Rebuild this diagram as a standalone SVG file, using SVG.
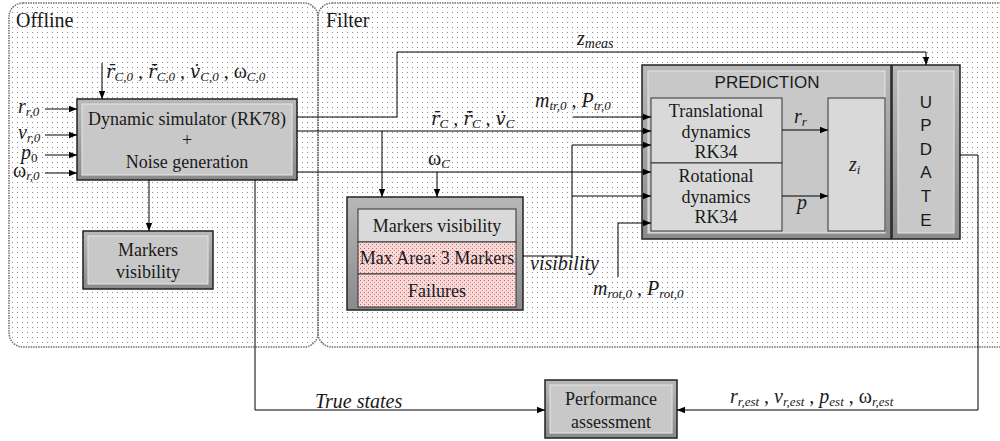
<svg xmlns="http://www.w3.org/2000/svg" width="1000" height="441" viewBox="0 0 1000 441">
<defs>
<pattern id="dots" width="5" height="5" patternUnits="userSpaceOnUse"><rect x="2" y="2" width="1" height="1" fill="#8c8c8c"/></pattern>
<pattern id="pink" width="4" height="4" patternUnits="userSpaceOnUse"><rect width="4" height="4" fill="#f5dada"/><rect x="0" y="0" width="1" height="1" fill="#e05a5a"/><rect x="2" y="2" width="1" height="1" fill="#e88080"/></pattern>
<linearGradient id="bev" x1="0" y1="0" x2="0" y2="1"><stop offset="0" stop-color="#b8b8b8"/><stop offset="1" stop-color="#8a8a8a"/></linearGradient>
<marker id="arr" viewBox="0 0 10 10" refX="10" refY="5" markerWidth="8" markerHeight="8" markerUnits="userSpaceOnUse" orient="auto" overflow="visible"><path d="M0,1 L10,5 L0,9 z" fill="#000" stroke="none"/></marker>
</defs>
<style>
.panel{fill:url(#dots);stroke:#6e6e6e;stroke-width:1.5;stroke-dasharray:1.5 1}
.la{fill:none;stroke:#000;stroke-width:1}
.outer{fill:url(#bev);stroke:#222;stroke-width:1.5}
.face{fill:#c8c8c8;stroke:#e6e6e6;stroke-width:1}
.inner{fill:#d9d9d9;stroke:#333;stroke-width:1}
.t{font-family:"Liberation Serif",serif;font-size:18px;fill:#1a1a1a;text-anchor:middle}
.title{font-family:"Liberation Serif",serif;font-size:20px;fill:#1a1a1a}
.s{font-family:"Liberation Sans",sans-serif;font-size:17px;fill:#1a1a1a;text-anchor:middle}
.m{font-family:"Liberation Serif",serif;font-style:italic;font-size:20px;fill:#1a1a1a}
.b{font-family:"DejaVu Serif",serif;font-size:18px}
.u{font-style:normal}
</style>
<rect width="1000" height="441" fill="#fff"/>
<g id="panels">
<rect id="offline-panel" class="panel" x="9" y="3" width="309" height="344" rx="14"/>
<rect id="filter-panel" class="panel" x="318" y="3" width="700" height="344" rx="14"/>
<text class="title" x="16" y="27">Offline</text>
<text class="title" x="326" y="27">Filter</text>
</g>
<g id="dynamic-simulator">
<rect class="outer" x="77" y="99" width="220" height="81"/>
<rect class="face" x="82" y="104" width="210" height="71"/>
<text class="t" x="187" y="125">Dynamic simulator (RK78)</text>
<text class="t" x="187" y="146">+</text>
<text class="t" x="187" y="168">Noise generation</text>
</g>
<g id="markers-visibility-offline">
<rect class="outer" x="83" y="231" width="130" height="58"/>
<rect class="face" x="88" y="236" width="120" height="48"/>
<text class="t" x="148" y="256">Markers</text>
<text class="t" x="148" y="278">visibility</text>
</g>
<g id="markers-visibility-filter">
<rect class="outer" x="347" y="197" width="176" height="113"/>
<rect x="358" y="209" width="158" height="33" fill="#d9d9d9" stroke="#333"/>
<rect x="358" y="242" width="158" height="32" fill="url(#pink)" stroke="#333"/>
<rect x="358" y="274" width="158" height="33" fill="url(#pink)" stroke="#333"/>
<text class="t" x="437" y="232">Markers visibility</text>
<text class="t" x="437" y="264" font-size="15">Max Area: 3 Markers</text>
<text class="t" x="437" y="297">Failures</text>
</g>
<g id="prediction">
<rect class="outer" x="642" y="65" width="249" height="174"/>
<rect class="face" x="648" y="71" width="237" height="162"/>
<text class="s" x="767" y="88">PREDICTION</text>
<g id="translational">
<rect class="inner" x="651" y="98" width="131" height="65"/>
<text class="t" x="716" y="117">Translational</text>
<text class="t" x="716" y="138">dynamics</text>
<text class="t" x="716" y="158">RK34</text>
</g>
<g id="rotational">
<rect class="inner" x="651" y="163" width="131" height="68"/>
<text class="t" x="716" y="182">Rotational</text>
<text class="t" x="716" y="203">dynamics</text>
<text class="t" x="716" y="223">RK34</text>
</g>
<g id="zi">
<rect class="inner" x="828" y="98" width="57" height="133"/>
<text class="m" x="849" y="171">z<tspan font-size="13" dy="3">i</tspan></text>
</g>
</g>
<g id="update">
<rect class="outer" x="892" y="65" width="68" height="174"/>
<rect class="face" x="898" y="71" width="56" height="162"/>
<text class="s" x="926" y="108">U</text>
<text class="s" x="926" y="131">P</text>
<text class="s" x="926" y="155">D</text>
<text class="s" x="926" y="178">A</text>
<text class="s" x="926" y="202">T</text>
<text class="s" x="926" y="226">E</text>
</g>
<g id="performance">
<rect class="outer" x="545" y="380" width="132" height="58"/>
<rect class="face" x="550" y="385" width="122" height="48"/>
<text class="t" x="611" y="405" font-size="17">Performance</text>
<text class="t" x="611" y="428" font-size="17">assessment</text>
</g>
<g id="connectors">
<path class="la" marker-end="url(#arr)" d="M297,117 H397 V52 H926 V65"/>
<path class="la" marker-end="url(#arr)" d="M297,131 H651"/>
<path class="la" marker-end="url(#arr)" d="M297,172 H651"/>
<path class="la" marker-end="url(#arr)" d="M382,131 V197"/>
<path class="la" marker-end="url(#arr)" d="M437,172 V197"/>
<path class="la" marker-end="url(#arr)" d="M573,117 H651"/>
<path class="la" marker-end="url(#arr)" d="M523,256 H572 V145 H651"/>
<path class="la" marker-end="url(#arr)" d="M572,196 H651"/>
<path class="la" marker-end="url(#arr)" d="M618,277 V223 H651"/>
<path class="la" marker-end="url(#arr)" d="M782,130 H828"/>
<path class="la" marker-end="url(#arr)" d="M782,196 H828"/>
<path class="la" marker-end="url(#arr)" d="M149,180 V231"/>
<path class="la" marker-end="url(#arr)" d="M45,109 H77"/>
<path class="la" marker-end="url(#arr)" d="M45,135 H77"/>
<path class="la" marker-end="url(#arr)" d="M45,155 H77"/>
<path class="la" marker-end="url(#arr)" d="M45,173 H77"/>
<path class="la" marker-end="url(#arr)" d="M102,63 V99"/>
<path class="la" marker-end="url(#arr)" d="M255,180 V410 H545"/>
<path class="la" marker-end="url(#arr)" d="M960,155 H978 V410 H677"/>
</g>
<g id="labels">
<text class="m" x="18" y="113">r<tspan font-size="13" dy="3">r,0</tspan></text>
<text class="m" x="18" y="139">v<tspan font-size="13" dy="3">r,0</tspan></text>
<text class="m" x="21" y="159">p<tspan font-size="13" dy="3" class="u">0</tspan></text>
<text class="m" x="13" y="177"><tspan class="u">ω</tspan><tspan font-size="13" dy="3">r,0</tspan></text>
<text class="m" x="106" y="78"><tspan class="b">r̄</tspan><tspan font-size="13" dy="3">C,0</tspan><tspan dy="-3"> , </tspan><tspan class="b">r̄̇</tspan><tspan font-size="13" dy="3">C,0</tspan><tspan dy="-3"> , </tspan><tspan class="b">v̇</tspan><tspan font-size="13" dy="3">C,0</tspan><tspan dy="-3" class="u"> , ω</tspan><tspan font-size="13" dy="3">C,0</tspan></text>
<text class="m" x="577" y="45">z<tspan font-size="14" dy="3">meas</tspan></text>
<text class="m" x="535" y="107">m<tspan font-size="13" dy="3">tr,0</tspan><tspan dy="-3"> , P</tspan><tspan font-size="13" dy="3">tr,0</tspan></text>
<text class="m" x="431" y="125"><tspan class="b">r̄</tspan><tspan font-size="13" dy="3">C</tspan><tspan dy="-3"> , </tspan><tspan class="b">r̄̇</tspan><tspan font-size="13" dy="3">C</tspan><tspan dy="-3"> , </tspan><tspan class="b">v̇</tspan><tspan font-size="13" dy="3">C</tspan></text>
<text class="m" x="428" y="165"><tspan class="u">ω</tspan><tspan font-size="13" dy="3">C</tspan></text>
<text class="m" x="530" y="270">visibility</text>
<text class="m" x="593" y="295">m<tspan font-size="13" dy="3">rot,0</tspan><tspan dy="-3"> , P</tspan><tspan font-size="13" dy="3">rot,0</tspan></text>
<text class="m" x="794" y="123">r<tspan font-size="13" dy="3">r</tspan></text>
<text class="m" x="797" y="209">p</text>
<text class="m" x="315" y="408">True states</text>
<text class="m" x="730" y="403">r<tspan font-size="13" dy="3">r,est</tspan><tspan dy="-3"> , v</tspan><tspan font-size="13" dy="3">r,est</tspan><tspan dy="-3"> , p</tspan><tspan font-size="13" dy="3">est</tspan><tspan dy="-3" class="u"> , ω</tspan><tspan font-size="13" dy="3">r,est</tspan></text>
</g>
</svg>
